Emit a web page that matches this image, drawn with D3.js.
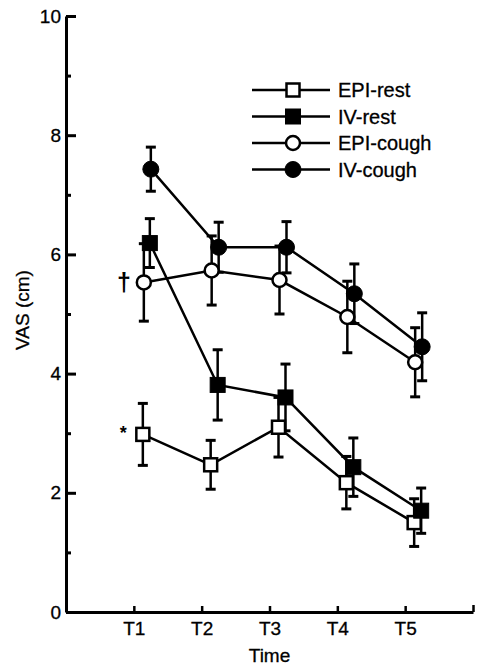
<!DOCTYPE html>
<html>
<head>
<meta charset="utf-8">
<script src="https://cdn.jsdelivr.net/npm/d3@7"></script>
<style>
  html, body { margin: 0; padding: 0; background: #fff; }
  svg text { font-family: "Liberation Sans", Arial, Helvetica, sans-serif; fill: #000; }
</style>
</head>
<body>
<svg id="chart" width="478" height="666"></svg>
<script>
// time points (x = 1..5)
const timeLabels = ["T1", "T2", "T3", "T4", "T5"];
const timeValues = [1, 2, 3, 4, 5];

// VAS means and error (cm)
const epiRest = [2.98, 2.47, 3.1, 2.17, 1.5];
const epiRestErr = [0.52, 0.41, 0.5, 0.44, 0.4];
const ivRest = [6.19, 3.81, 3.6, 2.43, 1.7];
const ivRestErr = [0.41, 0.59, 0.56, 0.49, 0.38];
const epiCough = [5.53, 5.73, 5.57, 4.95, 4.19];
const epiCoughErr = [0.65, 0.58, 0.57, 0.6, 0.58];
const ivCough = [7.43, 6.12, 6.12, 5.34, 4.45];
const ivCoughErr = [0.37, 0.42, 0.43, 0.5, 0.57];

const seriesNames = ["EPI-rest", "IV-rest", "EPI-cough", "IV-cough"];
const seriesValues = [epiRest, ivRest, epiCough, ivCough];
const seriesErrors = [epiRestErr, ivRestErr, epiCoughErr, ivCoughErr];

const yTicks = [0, 2, 4, 6, 8, 10];
const yMinorTicks = [1, 3, 5, 7, 9];

// marker look per series (shape, filled, x nudge in px)
const markerStyle = {
  "EPI-rest": { shape: "square", filled: false, dx: 9 },
  "IV-rest": { shape: "square", filled: true, dx: 16 },
  "EPI-cough": { shape: "circle", filled: false, dx: 10 },
  "IV-cough": { shape: "circle", filled: true, dx: 17 },
};

const svg = d3.select("#chart");

const x = d3.scaleLinear().domain([0, 6]).range([66, 473]);
const y = d3.scaleLinear().domain([0, 10]).range([612, 16]);

const series = seriesNames.map((name, i) => ({
  name,
  style: markerStyle[name],
  points: timeValues.map((t, j) => ({
    t,
    v: seriesValues[i][j],
    e: seriesErrors[i][j],
  })),
}));

// axes
const yAxis = svg
  .append("g")
  .attr("transform", `translate(${x(0)},0)`)
  .call(d3.axisLeft(y).tickValues(yTicks).tickSize(-10).tickSizeOuter(0).tickPadding(5));
yAxis.select(".domain").attr("stroke-width", 3);
yAxis.selectAll(".tick line").attr("stroke-width", 3);
yAxis.selectAll(".tick text").style("font-size", "19px").attr("stroke", "#000").attr("stroke-width", 0.3);

const yMinor = svg
  .append("g")
  .attr("transform", `translate(${x(0)},0)`)
  .call(d3.axisLeft(y).tickValues(yMinorTicks).tickSize(-5).tickFormat(""));
yMinor.select(".domain").remove();
yMinor.selectAll(".tick line").attr("stroke-width", 3);

const xAxis = svg
  .append("g")
  .attr("transform", `translate(0,${y(0)})`)
  .call(
    d3.axisBottom(x)
      .tickValues(timeValues)
      .tickFormat((d, i) => timeLabels[i])
      .tickSize(-6)
      .tickSizeOuter(0)
      .tickPadding(10)
  );
xAxis.select(".domain").attr("stroke-width", 3);
xAxis.selectAll(".tick line").attr("stroke-width", 2.5);
xAxis.selectAll(".tick text").style("font-size", "19px").attr("stroke", "#000").attr("stroke-width", 0.3);

const xEnd = svg
  .append("g")
  .attr("transform", `translate(0,${y(0)})`)
  .call(d3.axisBottom(x).tickValues([6]).tickSize(-7).tickFormat(""));
xEnd.select(".domain").remove();
xEnd.selectAll(".tick line").attr("stroke-width", 2.5);

// axis titles
svg
  .append("text")
  .attr("transform", `translate(29,310) rotate(-90)`)
  .attr("text-anchor", "middle")
  .style("font-size", "19px")
  .attr("stroke", "#000")
  .attr("stroke-width", 0.3)
  .text("VAS (cm)");

svg
  .append("text")
  .attr("x", x(3))
  .attr("y", 662)
  .attr("text-anchor", "middle")
  .style("font-size", "19px")
  .attr("stroke", "#000")
  .attr("stroke-width", 0.3)
  .text("Time");

// lines
const line = (dx) =>
  d3
    .line()
    .x((d) => x(d.t) + dx)
    .y((d) => y(d.v));

svg
  .append("g")
  .selectAll("path")
  .data(series)
  .join("path")
  .attr("d", (s) => line(s.style.dx)(s.points))
  .attr("fill", "none")
  .attr("stroke", "#000")
  .attr("stroke-width", 2.5);

// error bars
const capW = 5;
const errG = svg
  .append("g")
  .selectAll("g")
  .data(series)
  .join("g");

errG.each(function (s) {
  const g = d3.select(this);
  s.points.forEach((p) => {
    const cx = x(p.t) + s.style.dx;
    const y1 = y(p.v + p.e);
    const y0 = y(p.v - p.e);
    g.append("line")
      .attr("x1", cx).attr("x2", cx)
      .attr("y1", y1).attr("y2", y0)
      .attr("stroke", "#000").attr("stroke-width", 2.5);
    [y1, y0].forEach((cy) => {
      g.append("line")
        .attr("x1", cx - capW).attr("x2", cx + capW)
        .attr("y1", cy).attr("y2", cy)
        .attr("stroke", "#000").attr("stroke-width", 3);
    });
  });
});

// markers
function drawMarker(g, style, cx, cy) {
  if (style.shape === "square") {
    const s = style.filled ? 15 : 13;
    g.append("rect")
      .attr("x", cx - s / 2)
      .attr("y", cy - s / 2)
      .attr("width", s)
      .attr("height", s)
      .attr("fill", style.filled ? "#000" : "#fff")
      .attr("stroke", "#000")
      .attr("stroke-width", style.filled ? 1 : 2.5);
  } else {
    g.append("circle")
      .attr("cx", cx)
      .attr("cy", cy)
      .attr("r", style.filled ? 8 : 7)
      .attr("fill", style.filled ? "#000" : "#fff")
      .attr("stroke", "#000")
      .attr("stroke-width", style.filled ? 1 : 2.5);
  }
}

const markG = svg.append("g");
series.forEach((s) => {
  s.points.forEach((p) => {
    drawMarker(markG, s.style, x(p.t) + s.style.dx, y(p.v));
  });
});

// significance marks
svg
  .append("text")
  .attr("x", x(1) + markerStyle["EPI-cough"].dx - 13)
  .attr("y", y(epiCough[0]) + 9)
  .attr("text-anchor", "end")
  .style("font-size", "25px")
  .style("font-weight", "bold")
  .text("\u2020");

svg
  .append("text")
  .attr("x", x(1) + markerStyle["EPI-rest"].dx - 16)
  .attr("y", y(epiRest[0]) + 5)
  .attr("text-anchor", "end")
  .style("font-size", "18px")
  .style("font-weight", "bold")
  .text("*");

// legend
const legend = svg
  .append("g")
  .selectAll("g")
  .data(series)
  .join("g")
  .attr("transform", (s, i) => `translate(252,${90 + i * 26.5})`);

legend
  .append("line")
  .attr("x1", 0)
  .attr("x2", 78)
  .attr("stroke", "#000")
  .attr("stroke-width", 2.5);

legend.each(function (s) {
  drawMarker(d3.select(this), s.style, 41, 0);
});

legend
  .append("text")
  .attr("x", 86)
  .attr("dy", "0.35em")
  .style("font-size", "20px")
  .attr("stroke", "#000")
  .attr("stroke-width", 0.3)
  .text((s) => s.name);
</script>
</body>
</html>
